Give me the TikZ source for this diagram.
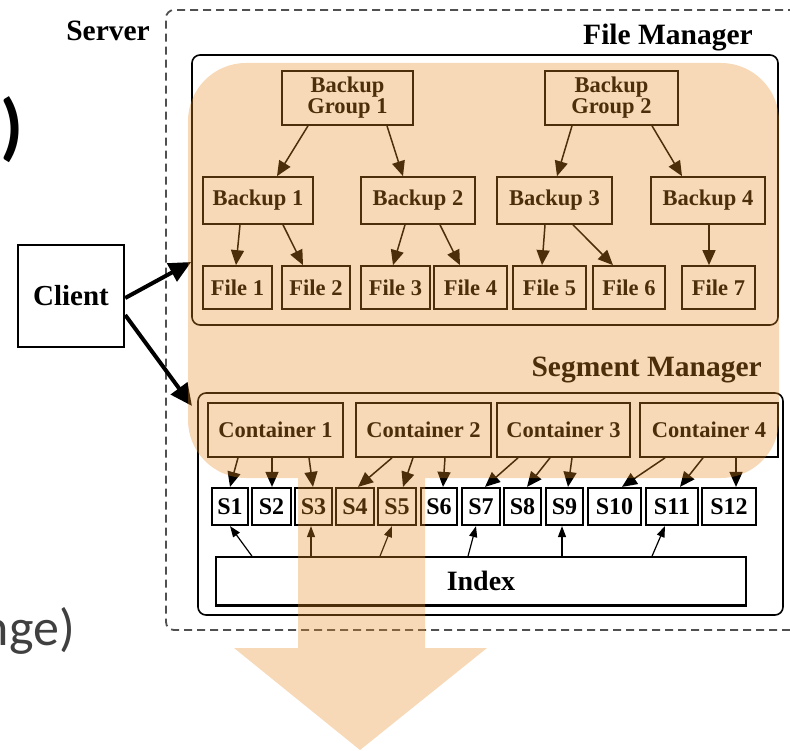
\documentclass[tikz,border=0pt]{standalone}
\usepackage{fontspec}
\setmainfont{Liberation Serif}
\newfontfamily\slidefont{Carlito}
\usetikzlibrary{arrows.meta,calc}
\definecolor{hilite}{RGB}{232,140,35}
\definecolor{dashgray}{RGB}{80,80,80}
\definecolor{slidegray}{RGB}{64,64,64}
\begin{document}
\begin{tikzpicture}[x=1pt,y=-1pt,
  box/.style={draw, line width=1.7pt, inner sep=0pt, align=center,
    font=\bfseries\fontsize{22.5}{21}\selectfont},
  seg/.style={draw, line width=2.2pt, inner sep=0pt, minimum height=37pt,
    font=\bfseries\fontsize{24}{24}\selectfont},
  frame/.style={draw, line width=1.6pt, rounded corners=8pt, inner sep=0pt},
  link/.style={line width=1.5pt, -{Triangle[length=15pt,width=13pt]}},
  idx/.style={line width=1.2pt, -{Triangle[length=11pt,width=8pt]}},
  big/.style={line width=4pt, -{Triangle[length=22pt,width=20pt]}},
  heading/.style={font=\bfseries\fontsize{29.5}{30}\selectfont, inner sep=0pt, anchor=base east},
  ]
\useasboundingbox (0,0) rectangle (790,751);

% slide text around the figure
\node[font=\slidefont\bfseries\fontsize{74}{74}\selectfont, anchor=east, inner sep=0pt] (paren) at (24,129.5) {)};
\node[font=\slidefont\fontsize{52}{52}\selectfont, text=slidegray, anchor=base east, inner sep=0pt] (tail) at (75,645) {nge)};

% server frame and the two managers
\node[draw=dashgray, line width=1.8pt, dash pattern=on 8pt off 5pt, rounded corners=8pt,
      minimum width=664pt, minimum height=620pt, inner sep=0pt] (server) at (498,320) {};
\node[heading] (serverlbl) at (150,41) {Server};
\node[frame, minimum width=586pt, minimum height=270pt] (fm) at (485,190) {};
\node[heading] (fmlbl) at (753,45) {File Manager};
\node[frame, minimum width=585pt, minimum height=222pt] (sm) at (490.5,504) {};
\node[heading] (smlbl) at (762,377) {Segment Manager};

% client
\node[draw, line width=2.4pt, minimum width=106pt, minimum height=102pt, inner sep=0pt,
      font=\bfseries\fontsize{29}{29}\selectfont] (client) at (71,296) {Client};
\coordinate (smin) at (192,406);

% backup groups, backups and files
\node[box, minimum width=131pt, minimum height=54pt] (bg1) at (347.5,98) {Backup\\Group 1};
\node[box, minimum width=133pt, minimum height=54pt] (bg2) at (611.5,98) {Backup\\Group 2};
\node[box, minimum width=110pt, minimum height=47pt] (b1) at (258,200.5) {Backup 1};
\node[box, minimum width=114pt, minimum height=47pt] (b2) at (418,200.5) {Backup 2};
\node[box, minimum width=115pt, minimum height=47pt] (b3) at (554.5,200.5) {Backup 3};
\node[box, minimum width=114pt, minimum height=47pt] (b4) at (708,200.5) {Backup 4};
\node[box, minimum width=69pt, minimum height=43pt] (f1) at (237.5,287.5) {File 1};
\node[box, minimum width=68pt, minimum height=43pt] (f2) at (316,287.5) {File 2};
\node[box, minimum width=69pt, minimum height=43pt] (f3) at (395.5,287.5) {File 3};
\node[box, minimum width=73pt, minimum height=43pt] (f4) at (470.5,287.5) {File 4};
\node[box, minimum width=73pt, minimum height=43pt] (f5) at (549.5,287.5) {File 5};
\node[box, minimum width=72pt, minimum height=43pt] (f6) at (629,287.5) {File 6};
\node[box, minimum width=73pt, minimum height=43pt] (f7) at (718.5,287.5) {File 7};

% containers, segments and index
\node[box, minimum width=135pt, minimum height=54pt] (c1) at (275.5,430) {Container 1};
\node[box, minimum width=135pt, minimum height=54pt] (c2) at (423.5,430) {Container 2};
\node[box, minimum width=133pt, minimum height=54pt] (c3) at (563.5,430) {Container 3};
\node[box, minimum width=138pt, minimum height=54pt] (c4) at (709,430) {Container 4};
\node[seg, minimum width=36pt] (s1) at (230,506.5) {S1};
\node[seg, minimum width=39pt] (s2) at (271.5,506.5) {S2};
\node[seg, minimum width=37pt] (s3) at (313.5,506.5) {S3};
\node[seg, minimum width=38pt] (s4) at (355,506.5) {S4};
\node[seg, minimum width=38pt] (s5) at (397,506.5) {S5};
\node[seg, minimum width=36pt] (s6) at (439,506.5) {S6};
\node[seg, minimum width=38pt] (s7) at (481,506.5) {S7};
\node[seg, minimum width=37pt] (s8) at (522.5,506.5) {S8};
\node[seg, minimum width=37pt] (s9) at (564.5,506.5) {S9};
\node[seg, minimum width=53pt] (s10) at (614.5,506.5) {S10};
\node[seg, minimum width=52pt] (s11) at (672,506.5) {S11};
\node[seg, minimum width=54pt] (s12) at (729,506.5) {S12};
\node[draw, line width=1.6pt, minimum width=530pt, minimum height=48pt, inner sep=0pt,
      font=\bfseries\fontsize{28}{28}\selectfont] (index) at (481,581) {Index};
\draw[line width=3.2pt] (index.south west) -- (index.south east);

% client requests
\draw[big] ([yshift=-2pt]client.east) -- ([yshift=-72pt]fm.west);
\draw[big] ([yshift=-19pt]client.east) -- (smin);

% backup hierarchy
\draw[link] ([xshift=-39.5pt]bg1.south) -- ([xshift=19pt]b1.north);
\draw[link] ([xshift=39.5pt]bg1.south) -- ([xshift=-15pt]b2.north);
\draw[link] ([xshift=-39.5pt]bg2.south) -- ([xshift=2.5pt]b3.north);
\draw[link] ([xshift=40.5pt]bg2.south) -- ([xshift=-26pt]b4.north);
\draw[link] ([xshift=-18pt]b1.south) -- ([xshift=-1.5pt]f1.north);
\draw[link] ([xshift=25pt]b1.south) -- ([xshift=-13pt]f2.north);
\draw[link] ([xshift=-13pt]b2.south) -- ([xshift=-2.5pt]f3.north);
\draw[link] ([xshift=22pt]b2.south) -- ([xshift=-10.5pt]f4.north);
\draw[link] ([xshift=-9.5pt]b3.south) -- ([xshift=-7.5pt]f5.north);
\draw[link] ([xshift=18.5pt]b3.south) -- ([xshift=-16pt]f6.north);
\draw[link] ([xshift=1pt]b4.south) -- ([xshift=-9.5pt]f7.north);

% containers hold segments
\draw[link] ([xshift=-37.5pt]c1.south) -- (s1.north);
\draw[link] ([xshift=-3.5pt]c1.south) -- ([xshift=0.5pt]s2.north);
\draw[link] ([xshift=33.5pt]c1.south) -- ([xshift=-0.5pt]s3.north);
\draw[link] ([xshift=-31.5pt]c2.south) -- ([xshift=3pt]s4.north);
\draw[link] ([xshift=-10.5pt]c2.south) -- ([xshift=6pt]s5.north);
\draw[link] ([xshift=21.5pt]c2.south) -- ([xshift=4pt]s6.north);
\draw[link] ([xshift=-45.5pt]c3.south) -- ([xshift=4pt]s7.north);
\draw[link] ([xshift=-13.5pt]c3.south) -- ([xshift=4.5pt]s8.north);
\draw[link] ([xshift=8.5pt]c3.south) -- ([xshift=3.5pt]s9.north);
\draw[link] ([xshift=-44pt]c4.south) -- ([xshift=7.5pt]s10.north);
\draw[link] ([xshift=-6pt]c4.south) -- ([xshift=8pt]s11.north);
\draw[link] ([xshift=27pt]c4.south) -- ([xshift=7pt]s12.north);

% index lookups
\draw[idx] ([xshift=-229pt]index.north) -- (s1.south);
\draw[idx] ([xshift=-170pt]index.north) -- ([xshift=-2.5pt]s3.south);
\draw[idx] ([xshift=-101pt]index.north) -- ([xshift=-5pt]s5.south);
\draw[idx] ([xshift=-13pt]index.north) -- ([xshift=-5pt]s7.south);
\draw[idx] ([xshift=81pt]index.north) -- ([xshift=-2.5pt]s9.south);
\draw[idx] ([xshift=171pt]index.north) -- ([xshift=-7pt]s11.south);

% translucent highlight with downward arrow
\fill[hilite, fill opacity=0.33]
  (246,63) -- (721,63) .. controls (753,63) and (779,89) .. (779,121)
  -- (779,420) .. controls (779,452) and (753,478) .. (721,478)
  -- (425,478) -- (425,648) -- (487,648) -- (360,750) -- (234,648) -- (298,648) -- (298,478)
  -- (246,478) .. controls (214,478) and (188,452) .. (188,420)
  -- (188,121) .. controls (188,89) and (214,63) .. (246,63) -- cycle;
\end{tikzpicture}
\end{document}
